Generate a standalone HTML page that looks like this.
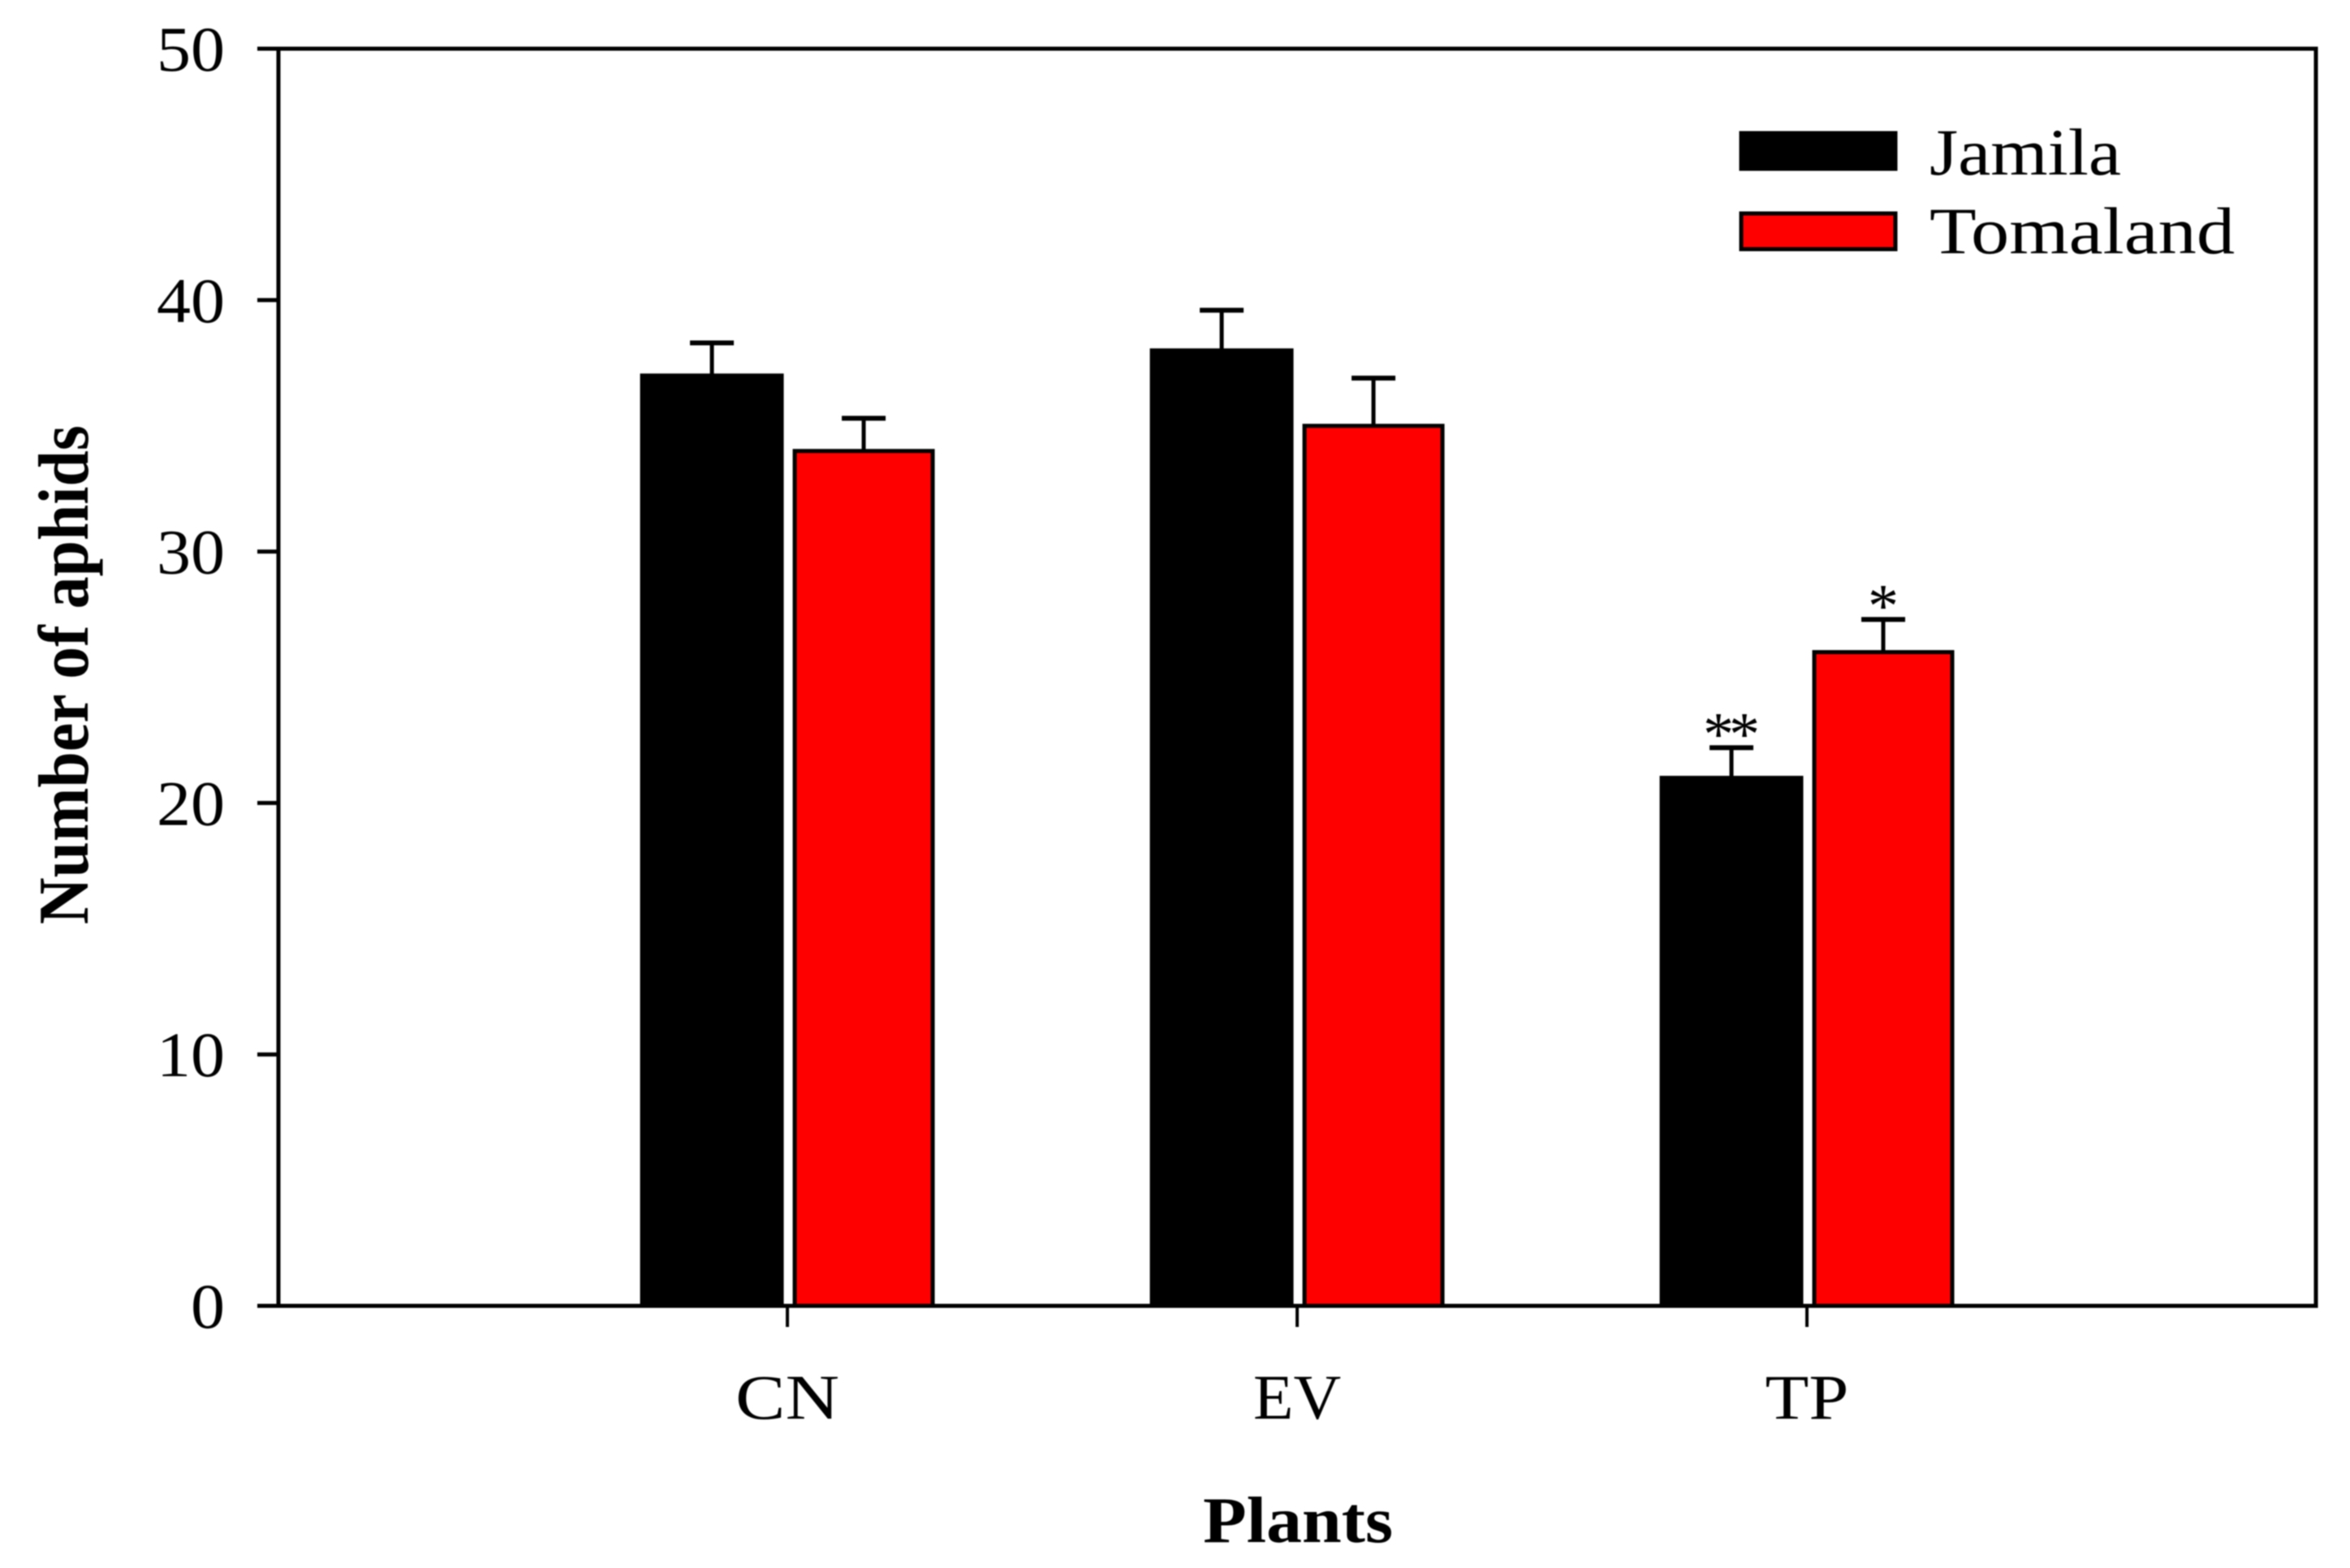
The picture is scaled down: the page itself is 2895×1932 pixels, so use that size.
<!DOCTYPE html>
<html lang="en">
<head>
<meta charset="utf-8">
<title>Number of aphids by plant</title>
<style>
html,body{margin:0;padding:0;background:#fff;}
svg{display:block;filter:blur(0.8px);}
text{font-family:"Liberation Serif",serif;fill:#000;}
</style>
</head>
<body>
<svg id="chart" xmlns="http://www.w3.org/2000/svg" width="2895" height="1932" viewBox="0 0 2895 1932">
  <rect x="0" y="0" width="2895" height="1932" fill="#fff"/>
  <g id="bars"></g>
  <g id="errors"></g>
  <g id="marks"></g>
  <rect x="343" y="60" width="2510" height="1549" fill="none" stroke="#000" stroke-width="5"/>
  <g id="yticks"></g>
  <g id="xticks"></g>
  <text transform="translate(108,1139) rotate(-90)" font-size="88" font-weight="bold" textLength="615" lengthAdjust="spacingAndGlyphs">Number of aphids</text>
  <text x="1482" y="1900" font-size="80" font-weight="bold" textLength="234" lengthAdjust="spacingAndGlyphs">Plants</text>
  <g>
    <g>
      <rect x="2145" y="164" width="190" height="44" fill="#000" stroke="#000" stroke-width="5"/>
      <text x="2377" y="215" font-size="82" textLength="236" lengthAdjust="spacingAndGlyphs">Jamila</text>
    </g>
    <g>
      <rect x="2145" y="263" width="190" height="44" fill="#f00" stroke="#000" stroke-width="5"/>
      <text x="2377" y="312" font-size="82" textLength="376" lengthAdjust="spacingAndGlyphs">Tomaland</text>
    </g>
  </g>
</svg>
<script>
const categories = ["CN", "EV", "TP"];
const jamilaValues = [37, 38, 21];
const tomalandValues = [34, 35, 26];
const jamilaErrors = [1.3, 1.6, 1.2];
const tomalandErrors = [1.3, 1.9, 1.3];
const jamilaMarks = ["", "", "**"];
const tomalandMarks = ["", "", "*"];
const yTickLabels = [0, 10, 20, 30, 40, 50];

const NS = "http://www.w3.org/2000/svg";
const labelStretch = { CN: 1.18, EV: 1.04, TP: 1.13 };
function yScale(v) { return 1609 - v * 30.98; }
function xScale(i) { return 970 + 628 * i; }
function make(tag, attrs, parent) {
  const el = document.createElementNS(NS, tag);
  for (const k in attrs) el.setAttribute(k, attrs[k]);
  parent.appendChild(el);
  return el;
}

const barsG = document.getElementById("bars");
const errorsG = document.getElementById("errors");
const marksG = document.getElementById("marks");
const yG = document.getElementById("yticks");
const xG = document.getElementById("xticks");

function drawSeries(values, errors, marks, left, width, fill, seriesName) {
  values.forEach(function (v, i) {
    const x = xScale(i) + left;
    const cx = x + width / 2;
    const top = yScale(v);
    const capY = yScale(v + errors[i]);

    const stem = make("line", { x1: cx, x2: cx, y1: top, y2: capY, stroke: "#000", "stroke-width": 5 }, errorsG);
    
    

    const cap = make("line", { x1: cx - 27, x2: cx + 27, y1: capY, y2: capY, stroke: "#000", "stroke-width": 6 }, errorsG);
    
    

    const bar = make("rect", { x: x, y: top, width: width, height: yScale(0) - top, fill: fill, stroke: "#000", "stroke-width": 5 }, barsG);
    
    

    if (marks[i]) {
      const t = make("text", { x: cx - 3, y: capY + 9, "font-size": 76, "text-anchor": "middle", "letter-spacing": -6 }, marksG);
      t.textContent = marks[i];
      
      
    }
  });
}

drawSeries(jamilaValues, jamilaErrors, jamilaMarks, -179, 172, "#000", "jamila");
drawSeries(tomalandValues, tomalandErrors, tomalandMarks, 9, 170, "#f00", "tomaland");

yTickLabels.forEach(function (v) {
  const y = yScale(v);
  const tick = make("line", { x1: 317, x2: 343, y1: y, y2: y, stroke: "#000", "stroke-width": 5 }, yG);
  
  

  const label = String(v);
  const t = make("text", { x: 277, y: y + 27, "font-size": 78, "text-anchor": "end", textLength: label.length * 42, lengthAdjust: "spacingAndGlyphs" }, yG);
  t.textContent = label;
  
  
});

categories.forEach(function (c, i) {
  const x = xScale(i);
  const tick = make("line", { x1: x, x2: x, y1: 1609, y2: 1635, stroke: "#000", "stroke-width": 4 }, xG);
  
  

  const t = make("text", { x: x, y: 1748, "font-size": 78, "text-anchor": "middle" }, xG);
  t.textContent = c;
  t.setAttribute('textLength', t.getComputedTextLength() * (labelStretch[c] || 1.1));
  t.setAttribute('lengthAdjust', 'spacingAndGlyphs');
  
  
});
</script>
</body>
</html>
